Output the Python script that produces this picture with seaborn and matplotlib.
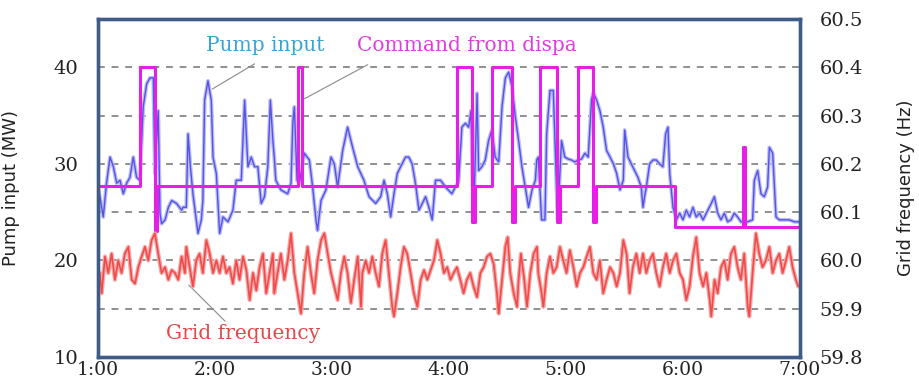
import numpy as np
import matplotlib
matplotlib.use("Agg")
import matplotlib.pyplot as plt
import matplotlib.transforms as mtransforms
import seaborn as sns

# time axis: minutes after 1:00
tick_minutes = [0, 60, 120, 180, 240, 300, 360]
tick_labels = ["1:00", "2:00", "3:00", "4:00", "5:00", "6:00", "7:00"]

# Command from dispatch (MW), step series
cmd_t = [0, 21.5, 29.2, 30.3, 102.6, 104.6, 184.1, 191.8, 193.3, 202.1, 212.3, 213.8,
         226.7, 235.4, 236.9, 246.2, 253.8, 255.4, 295.9, 330.8, 331.8, 360]
cmd_mw = [27.7, 40, 23.0, 27.7, 40, 27.7, 40, 24, 27.7, 40, 24, 27.7,
          40, 24, 27.7, 40, 24, 27.7, 23.5, 31.7, 23.5, 23.5]

# Pump input (MW)
pump_t = [0, 1.0, 2.7, 4.4, 6.2, 7.9, 9.6, 11.3, 13.0, 14.7, 16.4, 18.1, 19.8, 21.5, 23.2,
          25.0, 26.7, 28.4, 29.2, 30.9, 31.8, 32.6, 34.4, 36.1, 37.8, 40.3, 42.9,
          43.6, 45.3, 46.2, 47.4, 48.7, 51.3, 53.0, 53.8, 54.7, 56.4, 58.1, 59.0, 60.7,
          62.4, 64.1, 66.7, 69.2, 70.9, 73.5, 75.2, 76.9, 78.6, 80.3, 82.0, 83.7, 85.4,
          87.1, 88.4, 89.7,
          90.4, 91.2, 93.8, 97.3, 99.0, 99.9, 100.7, 102.1, 103.3, 105.8, 108.4, 110.1,
          111.8, 112.6, 114.4, 116.9, 119.5, 121.2, 122.9, 125.5, 128.0, 130.6, 133.2,
          136.4, 139.0, 142.4, 145.0, 146.7, 148.4, 150.1, 151.8, 153.5, 155.2, 157.7,
          159.4, 161.1, 162.8, 164.6, 166.3, 168.0, 169.7, 171.4, 173.1, 175.7, 178.2,
          181.5, 183.2, 184.9, 186.6, 188.4, 190.1, 191.3, 192.6, 194.4, 195.2, 196.9,
          198.6, 200.3, 202.0, 203.7, 205.5, 207.2, 208.9, 210.6, 212.3, 214.0, 215.7,
          217.4, 219.1, 220.8, 222.6, 224.3,
          225.0, 225.8, 227.5, 229.2, 230.1, 231.8, 233.5, 234.7, 235.7, 237.7, 239.4,
          241.1, 242.8, 244.5, 246.3, 248.0, 249.7, 251.4, 253.1, 254.0, 255.7, 257.4,
          259.1, 260.8, 262.6, 264.3, 266.0, 267.7, 269.4,
          270.1, 271.8, 273.5, 275.2, 276.9, 278.6, 279.5, 280.3, 281.2, 282.9, 284.6,
          286.3, 288.0, 289.7, 291.1, 292.3, 293.2, 294.9, 296.6, 298.3, 300.0, 301.7,
          303.4, 305.1, 306.8, 308.5, 310.3, 312.0, 314.5,
          316.1, 317.8, 319.5, 321.2, 322.9, 324.6, 326.3, 328.0, 329.7, 333.2, 335.7,
          336.6, 338.3, 340.0, 341.7, 343.4, 344.3, 346.0, 347.7, 349.4, 352.0, 354.5,
          357.1, 358.8, 360]
pump_mw = [27.5, 26.6, 24.5, 28.0, 30.7, 29.7, 28.0, 28.3, 26.9, 28.0, 28.6, 30.7, 28.6, 28.3, 35.9,
           38.3, 38.9, 38.9, 29.0, 35.5, 24.9, 23.8, 24.2, 25.5, 26.2, 25.9, 25.2,
           25.5, 25.5, 33.1, 29.7, 26.9, 22.8, 24.2, 26.2, 36.6, 38.6, 36.6, 30.7, 29.0,
           22.8, 24.5, 24.0, 25.2, 28.3, 28.3, 36.6, 29.7, 30.7, 29.7, 29.7, 25.9, 26.6,
           29.7, 36.6, 32.4,
           30.7, 28.3, 27.3, 26.9, 28.0, 34.2, 35.9, 28.3, 28.0, 31.1, 30.4, 27.6,
           24.2, 23.1, 26.2, 27.3, 30.7, 30.0, 27.6, 31.4, 33.8, 31.7, 29.7,
           28.3, 26.6, 25.9, 26.6, 28.3, 26.9, 24.5, 26.9, 29.0, 29.7, 30.7,
           30.7, 30.0, 28.0, 25.2, 25.9, 26.6, 25.5, 24.2, 28.3, 28.3, 27.6,
           26.9, 27.6, 28.1, 33.8, 34.2, 33.8, 35.5, 24.2, 37.3, 29.3, 29.7,
           30.4, 32.4, 33.5, 30.7, 30.2, 35.9, 38.9, 39.5, 38.0, 34.9, 32.4,
           29.7, 27.6, 25.5, 27.3, 28.3,
           30.4, 30.7, 24.2, 24.2, 33.1, 37.6, 37.6, 30.4, 24.2, 32.4, 30.7,
           30.5, 30.4, 30.2, 30.4, 30.5, 31.1, 30.7, 36.6, 37.4, 36.6, 35.5,
           33.8, 31.4, 30.7, 30.0, 29.0, 27.3, 28.3,
           33.5, 30.7, 30.0, 29.3, 28.6, 27.6, 25.5, 26.6, 27.6, 30.0, 30.4,
           30.4, 30.0, 29.7, 33.1, 33.8, 29.0, 25.5, 24.2, 24.9, 24.2, 25.2,
           24.5, 25.5, 24.5, 24.9, 24.2, 24.9, 25.9,
           26.6, 24.9, 24.2, 24.9, 24.0, 24.2, 24.9, 24.5, 24.0, 24.0, 24.2,
           28.3, 29.3, 26.9, 26.6, 27.6, 31.7, 31.1, 24.5, 24.2, 24.2, 24.2,
           24.0, 24.0, 24.0]

# Grid frequency (Hz)
grid_t = [0, 1.0, 1.9, 3.6, 5.3, 7.0, 8.7, 10.4, 12.1, 13.8, 15.6, 17.3, 19.0, 20.7, 22.4,
          24.1, 25.8, 27.5, 29.2, 30.9, 32.6, 34.4, 36.1, 37.8, 39.5, 41.2, 42.9, 44.6,
          45.3, 47.0, 48.7, 50.4, 52.1, 53.8, 55.6, 57.3, 59.0, 60.7, 62.4, 64.1, 65.8,
          67.5, 69.2, 70.9, 72.6, 74.4, 76.1, 77.8, 79.5, 81.2, 82.9, 84.6, 86.3, 88.0,
          89.7,
          90.4, 92.1, 93.8, 95.6, 97.3, 99.0, 100.7, 102.4, 104.1, 105.8, 107.5, 109.2,
          110.9, 112.6, 114.4, 116.1, 117.8, 119.5, 121.2, 122.9, 124.6, 126.3, 128.0,
          129.7, 131.4, 133.2, 134.9,
          135.6, 137.3, 139.0, 140.7, 142.4, 144.1, 145.8, 147.5, 149.2, 150.9, 151.8,
          153.5, 155.2, 156.9, 158.6, 160.3, 162.0, 163.8, 165.5, 167.2, 168.9, 170.6,
          172.3, 174.0, 175.7, 177.4, 179.1, 180.8,
          182.4, 184.1, 185.8, 187.5, 189.2, 190.9, 192.6, 194.4, 196.1, 197.8, 199.5,
          201.2, 202.9, 204.6, 205.5, 207.2, 208.9, 210.1, 211.4, 213.2, 214.9, 215.7,
          216.9, 218.6, 220.0, 221.7, 223.4, 225.1,
          225.8, 227.5, 228.4, 230.1, 231.8, 233.5, 235.2, 236.9, 238.6, 240.3, 242.0,
          243.8, 245.5, 247.2, 248.9, 250.6, 252.3, 254.0, 255.7, 257.4, 259.1, 260.8,
          262.6, 264.3, 266.0, 267.7, 269.4, 271.1,
          272.6, 274.3, 276.1, 277.8, 279.5, 281.2, 282.9, 284.6, 286.3, 288.0, 289.7,
          291.4, 293.2, 294.9, 296.6, 298.3, 300.0, 301.7, 303.4, 305.1, 306.8, 308.5,
          310.3, 312.0, 313.7, 314.5, 316.2,
          317.8, 319.5, 321.2, 322.9, 324.6, 326.3, 328.0, 329.7, 331.4, 333.2, 334.0,
          335.7, 337.4, 339.1, 340.8, 342.5, 344.3, 346.0, 347.7, 349.4, 351.1, 352.8,
          354.5, 356.2, 357.9, 359.1, 360]
grid_hz = [59.94, 59.974, 59.932, 60.008, 59.974, 60.014, 59.96, 60.0, 59.974, 60.014, 60.028,
           59.96, 59.952, 59.986, 60.008, 60.028, 60.0, 60.042, 60.056, 60.014, 59.974, 59.986,
           59.96, 59.98, 59.974, 59.96, 60.008, 59.974,
           60.028, 59.986, 59.946, 60.0, 60.014, 59.974, 60.042, 60.014, 59.974, 60.0, 59.974,
           60.008, 59.974, 59.986, 59.952, 60.0, 59.96, 60.008, 59.98, 59.918, 59.974, 59.938,
           59.986, 60.014, 59.932, 59.974, 60.014,
           59.932, 59.974, 60.014, 59.96, 60.0, 60.056, 59.974, 59.932, 59.89, 59.974, 60.028,
           59.974, 59.932, 60.0, 60.042, 60.056, 60.014, 59.974, 59.946, 59.918, 59.974,
           60.008, 59.974, 59.912, 59.96, 60.008, 59.904,
           59.974, 60.0, 59.974, 60.008, 59.974, 59.946, 60.014, 60.042, 59.974, 59.904, 59.884,
           59.932, 59.986, 60.028, 60.014, 59.974, 59.932, 59.904, 59.96, 59.98, 59.96, 59.98,
           60.0, 60.042, 60.014, 59.974, 59.986, 59.96,
           59.974, 59.986, 59.96, 59.932, 59.96, 59.974, 59.946, 59.924, 59.974, 59.986, 60.008,
           60.014, 59.993, 59.932, 59.89, 59.96, 60.028, 60.048, 59.974, 59.932, 59.904, 59.96,
           60.014, 59.96, 59.904, 59.974, 60.014, 60.028,
           59.974, 59.932, 59.904, 59.974, 60.008, 59.974, 59.986, 60.028, 60.0, 59.974, 60.021,
           59.986, 59.946, 59.974, 59.986, 60.008, 60.028, 59.974, 59.96, 60.0, 59.932, 59.96,
           59.986, 59.974, 59.946, 59.974, 60.042, 60.014,
           59.932, 59.986, 60.014, 59.974, 60.014, 59.974, 60.0, 60.014, 59.974, 59.946, 59.986,
           60.014, 59.974, 60.0, 60.014, 59.974, 59.96, 59.918, 59.946, 60.008, 60.048, 59.974,
           59.946, 59.974, 59.918, 59.884, 59.96,
           59.932, 59.986, 60.0, 59.96, 60.014, 60.028, 59.986, 59.96, 60.014, 59.904, 59.884,
           59.974, 60.056, 60.014, 59.986, 60.0, 60.028, 59.974, 60.0, 60.014, 59.974, 60.0,
           60.028, 59.986, 59.96, 59.946, 59.95]

grid_levels = [15, 20, 25, 30, 35, 40]
frame_color = "#3e5c86"

sns.set_style("white")
fig = plt.figure(figsize=(9.19, 3.9), dpi=100)
ax = fig.add_axes([0.1066, 0.0846, 0.7639, 0.8667])
ax2 = ax.twinx()

for lev in grid_levels:
    ax.axhline(lev, color="#8f8f8f", lw=1.4, ls=(0, (3.5, 3.5)), zorder=0)

# pump input: light halo + darker core
sns.lineplot(x=pump_t, y=pump_mw, ax=ax, color="#bcbcf7", lw=2.8, estimator=None, sort=False)
sns.lineplot(x=pump_t, y=pump_mw, ax=ax, color="#5353e4", lw=1.0, estimator=None, sort=False)
# command from dispatch
sns.lineplot(x=cmd_t, y=cmd_mw, ax=ax, color="#e61ee6", lw=2.2, estimator=None, sort=False,
             drawstyle="steps-post")
# grid frequency on right axis
sns.lineplot(x=grid_t, y=grid_hz, ax=ax2, color="#f7a8a8", lw=3.0, estimator=None, sort=False)
sns.lineplot(x=grid_t, y=grid_hz, ax=ax2, color="#ef4b4b", lw=1.2, estimator=None, sort=False)

ax.set_xlim(0, 360)
ax.set_ylim(10, 45)
ax2.set_ylim(59.8, 60.5)

serif = "DejaVu Serif"
ax.set_xticks(tick_minutes)
ax.set_xticklabels(tick_labels, family=serif, fontsize=13.5, color="#222222")
shift = mtransforms.ScaledTranslation(-9 / 100, 0, fig.dpi_scale_trans)
for lab in ax.get_xticklabels():
    lab.set_transform(lab.get_transform() + shift)
ax.set_yticks([10, 20, 30, 40])
ax.set_yticklabels(["10", "20", "30", "40"], family=serif, fontsize=14, color="#222222")
ax2.set_yticks([59.8, 59.9, 60.0, 60.1, 60.2, 60.3, 60.4, 60.5])
ax2.set_yticklabels(["59.8", "59.9", "60.0", "60.1", "60.2", "60.3", "60.4", "60.5"],
                    family=serif, fontsize=14, color="#222222")
ax.tick_params(axis="x", direction="in", length=6, width=1.2, color=frame_color, pad=3)
ax.tick_params(axis="y", length=0, pad=14)
ax2.tick_params(axis="y", length=0, pad=14)

ax.set_ylabel("Pump input (MW)", fontsize=13, family="DejaVu Sans", color="#222222")
ax2.set_ylabel("Grid frequency (Hz)", fontsize=13, family="DejaVu Sans", color="#222222")
ax.yaxis.set_label_coords(-0.111, 0.5)
ax2.yaxis.set_label_coords(1.138, 0.5)

for a in (ax, ax2):
    for sp in a.spines.values():
        sp.set_color(frame_color)
        sp.set_linewidth(2.4)

# labels with leader lines
ax.text(85.6, 42.3, "Pump input", color="#3aa3d6", fontsize=14.5, family=serif,
        ha="center", va="center")
ax.text(132.8, 42.3, "Command from dispa", color="#e23ae2", fontsize=14.5, family=serif,
        ha="left", va="center")
ax.text(74.4, 12.4, "Grid frequency", color="#e04a4a", fontsize=14.5, family=serif,
        ha="center", va="center")
ax.annotate("", xy=(57.4, 37.6), xytext=(81.5, 40.5),
            arrowprops=dict(arrowstyle="-", color="#8a8a8a", lw=0.8))
ax.annotate("", xy=(104.6, 36.6), xytext=(139.5, 40.4),
            arrowprops=dict(arrowstyle="-", color="#8a8a8a", lw=0.8))
ax.annotate("", xy=(45.6, 17.65), xytext=(66.2, 13.5),
            arrowprops=dict(arrowstyle="-", color="#8a8a8a", lw=0.8))

ax.set_xlabel("")
fig.savefig("out.png", dpi=100)
